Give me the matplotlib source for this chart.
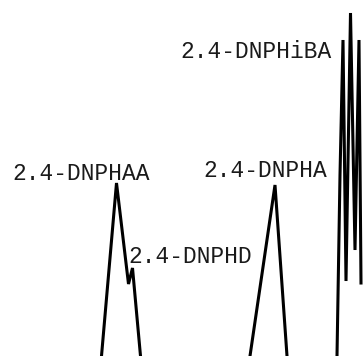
import numpy as np
from matplotlib import pyplot as plt

# picture height, used to turn top-down pixel reads into signal heights
H = 356

# peak traces (x, signal above bottom edge)
aa_t = [101.5, 116.5, 128.5, 132.5, 140.5]
aa_h = [0, 173, 72, 88, 0]

dnpha_t = [250, 275, 287]
dnpha_h = [0, 171, 0]

iba_t = [337, 340, 343, 346, 350.5, 355, 359, 361]
iba_h = [0, 181, 316, 75, 343, 106, 316, 73]

labels = ['2.4-DNPHAA', '2.4-DNPHD', '2.4-DNPHA', '2.4-DNPHiBA']
label_x = [12, 128, 203, 180]
label_y = [176, 93, 179, 298]

fig = plt.figure(figsize=(3.64, 3.56), dpi=100)
ax = fig.add_axes([0, 0, 1, 1])
ax.set_xlim(0, 364)
ax.set_ylim(0, H)
ax.axis('off')

for t, h in [(aa_t, aa_h), (dnpha_t, dnpha_h), (iba_t, iba_h)]:
    ax.plot(t, h, color='black', lw=2.2, solid_joinstyle='miter')

for s, x, y in zip(labels, label_x, label_y):
    ax.text(x, y, s, family='Liberation Mono', fontsize=16.5,
            ha='left', va='baseline', color='#1a1a1a')

fig.savefig('out.png', dpi=100)
